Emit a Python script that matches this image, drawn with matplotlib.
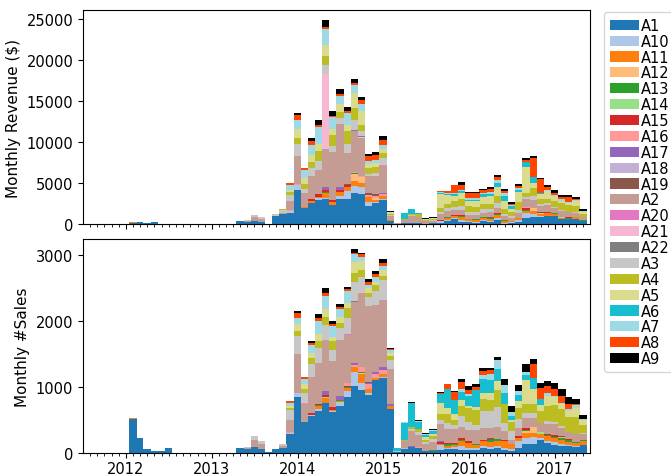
import numpy as np
import pandas as pd
import matplotlib
matplotlib.use('Agg')
import matplotlib.pyplot as plt
import matplotlib.dates as mdates

# monthly bars, 2012-01 .. 2017-04, plotted at month end
months = pd.period_range('2012-01', '2017-04', freq='M').to_timestamp(how='end').normalize()

names = ['A1', 'A10', 'A11', 'A12', 'A13', 'A14', 'A15', 'A16', 'A17', 'A18', 'A19',
         'A2', 'A20', 'A21', 'A22', 'A3', 'A4', 'A5', 'A6', 'A7', 'A8', 'A9']

# ---- monthly revenue ($), one row per year ----
rev_A1 = [120, 245, 80, 245, 30, 40, 0, 0, 0, 0, 0, 0,
          20, 20, 20, 370, 290, 370, 285, 10, 1020, 1180, 1390, 4170,
          1920, 2610, 2940, 3020, 2330, 3060, 3060, 3840, 3680, 2200, 2530, 2940,
          380, 40, 80, 100, 120, 60, 80, 160, 380, 600, 300, 200,
          170, 350, 240, 430, 60, 90, 240, 690, 820, 820, 990, 1015,
          585, 550, 600, 340]
rev_A10 = [0, 0, 0, 0, 0, 0, 0, 0, 0, 0, 0, 0,
           0, 0, 0, 0, 0, 0, 0, 0, 0, 0, 200, 570,
           0, 0, 250, 200, 0, 300, 1000, 820, 780, 530, 200, 160,
           0, 20, 0, 0, 0, 0, 0, 200, 160, 120, 150, 160,
           120, 150, 120, 300, 100, 100, 200, 610, 450, 100, 0, 0,
           60, 0, 0, 0]
rev_A11 = [120, 0, 0, 0, 0, 0, 0, 0, 0, 0, 0, 0,
           0, 0, 0, 0, 0, 0, 0, 0, 0, 0, 0, 0,
           120, 160, 160, 530, 370, 500, 400, 530, 530, 610, 200, 330,
           60, 0, 0, 0, 0, 0, 0, 0, 250, 300, 400, 200,
           200, 250, 300, 400, 200, 120, 250, 245, 300, 290, 300, 200,
           120, 120, 200, 80]
rev_A12 = [0, 0, 0, 0, 0, 0, 0, 0, 0, 0, 0, 0,
           0, 0, 0, 0, 0, 0, 0, 0, 0, 0, 0, 0,
           0, 0, 0, 0, 0, 0, 0, 900, 690, 0, 200, 0,
           0, 0, 0, 0, 0, 0, 0, 0, 0, 0, 0, 0,
           0, 0, 0, 0, 0, 0, 0, 0, 400, 0, 0, 0,
           0, 0, 0, 0]
rev_A13 = [0, 0, 0, 0, 0, 0, 0, 0, 0, 0, 0, 0,
           0, 0, 0, 0, 0, 0, 0, 0, 0, 0, 0, 0,
           0, 0, 0, 120, 0, 100, 80, 120, 0, 0, 0, 0,
           0, 0, 0, 0, 0, 0, 0, 0, 120, 0, 80, 0,
           80, 80, 100, 120, 80, 0, 80, 160, 0, 0, 80, 80,
           0, 80, 100, 80]
rev_A14 = [0, 0, 0, 0, 0, 0, 0, 0, 0, 0, 0, 0,
           0, 0, 0, 0, 0, 0, 0, 0, 0, 0, 0, 0,
           0, 0, 0, 0, 0, 0, 0, 0, 0, 0, 0, 0,
           0, 0, 0, 0, 0, 0, 0, 0, 0, 0, 0, 0,
           0, 0, 0, 0, 0, 0, 0, 0, 0, 80, 0, 0,
           80, 0, 0, 0]
rev_A15 = [0, 0, 0, 0, 0, 0, 0, 0, 0, 0, 0, 0,
           0, 0, 0, 0, 0, 0, 0, 0, 0, 0, 0, 0,
           0, 250, 330, 290, 250, 250, 160, 0, 0, 0, 0, 0,
           0, 0, 0, 0, 0, 0, 0, 100, 0, 100, 120, 80,
           0, 0, 0, 100, 80, 60, 0, 200, 0, 120, 150, 0,
           60, 80, 0, 0]
rev_A16 = [0, 0, 0, 0, 0, 0, 0, 0, 0, 0, 0, 0,
           0, 0, 0, 0, 0, 0, 0, 0, 0, 0, 100, 100,
           0, 0, 0, 0, 0, 0, 120, 120, 120, 200, 290, 200,
           0, 0, 0, 0, 60, 0, 0, 0, 0, 0, 0, 0,
           0, 0, 0, 0, 0, 0, 0, 200, 0, 0, 0, 0,
           0, 0, 0, 0]
rev_A17 = [0, 0, 0, 0, 0, 0, 0, 0, 0, 0, 0, 0,
           0, 0, 0, 0, 0, 0, 0, 0, 0, 0, 0, 0,
           0, 0, 0, 330, 0, 300, 0, 0, 0, 0, 0, 120,
           60, 0, 40, 40, 0, 0, 0, 80, 0, 0, 0, 0,
           0, 0, 0, 0, 0, 0, 0, 0, 0, 0, 0, 0,
           0, 0, 0, 0]
rev_A18 = [0, 0, 0, 0, 0, 0, 0, 0, 0, 0, 0, 0,
           0, 0, 0, 0, 0, 0, 0, 0, 0, 0, 0, 0,
           0, 0, 0, 0, 0, 0, 0, 0, 0, 0, 0, 0,
           0, 0, 0, 0, 0, 0, 0, 0, 0, 0, 0, 0,
           0, 0, 0, 0, 0, 0, 0, 0, 0, 0, 0, 0,
           0, 0, 0, 0]
rev_A19 = [0, 0, 0, 0, 0, 0, 0, 0, 0, 0, 0, 0,
           0, 0, 0, 0, 0, 0, 0, 0, 0, 0, 0, 0,
           0, 0, 0, 0, 0, 0, 120, 0, 0, 290, 200, 0,
           0, 0, 0, 0, 0, 0, 0, 0, 0, 0, 0, 0,
           0, 0, 80, 0, 0, 0, 0, 0, 0, 0, 0, 0,
           0, 0, 0, 0]
rev_A2 = [0, 0, 0, 0, 0, 0, 0, 0, 0, 0, 0, 0,
          0, 0, 0, 0, 40, 450, 280, 0, 0, 120, 1100, 3510,
          1710, 2820, 2940, 4700, 5800, 7640, 3730, 4980, 4700, 2060, 2250, 3430,
          450, 40, 400, 820, 650, 250, 320, 730, 700, 650, 700, 450,
          500, 550, 600, 650, 400, 350, 600, 940, 1000, 800, 820, 700,
          650, 600, 500, 330]
rev_A20 = [0, 0, 0, 0, 0, 0, 0, 0, 0, 0, 0, 0,
           0, 0, 0, 0, 0, 0, 0, 0, 0, 0, 0, 0,
           0, 0, 0, 0, 0, 0, 0, 0, 0, 0, 0, 0,
           0, 0, 0, 0, 0, 0, 0, 0, 0, 0, 0, 0,
           0, 0, 0, 0, 0, 0, 0, 0, 0, 0, 0, 0,
           0, 0, 0, 0]
rev_A21 = [0, 0, 0, 0, 0, 0, 0, 0, 0, 0, 0, 0,
           0, 0, 0, 0, 0, 0, 0, 0, 0, 0, 0, 0,
           0, 0, 0, 9070, 0, 0, 0, 0, 120, 0, 120, 120,
           0, 0, 0, 0, 0, 0, 0, 0, 0, 0, 0, 0,
           0, 0, 0, 0, 0, 0, 0, 0, 0, 0, 0, 0,
           0, 0, 0, 0]
rev_A22 = [0, 0, 0, 0, 0, 0, 0, 0, 0, 0, 0, 0,
           0, 0, 0, 0, 0, 0, 0, 0, 0, 0, 0, 0,
           0, 0, 0, 0, 0, 0, 0, 200, 120, 0, 0, 0,
           0, 0, 0, 0, 0, 0, 0, 0, 0, 0, 0, 0,
           0, 0, 0, 0, 0, 0, 0, 0, 0, 0, 0, 0,
           0, 0, 0, 0]
rev_A3 = [0, 0, 0, 0, 0, 0, 0, 0, 0, 0, 0, 0,
          0, 0, 0, 0, 180, 285, 280, 0, 160, 450, 700, 1430,
          490, 940, 1100, 1100, 815, 775, 1140, 1225, 570, 245, 290, 735,
          120, 0, 0, 80, 80, 60, 80, 200, 300, 330, 450, 400,
          400, 450, 450, 600, 300, 250, 400, 290, 500, 200, 200, 100,
          100, 80, 100, 0]
rev_A4 = [0, 0, 0, 0, 0, 0, 0, 0, 0, 0, 0, 0,
          0, 0, 0, 0, 0, 0, 0, 0, 0, 40, 400, 735,
          650, 820, 1140, 1140, 1350, 775, 1510, 1430, 820, 690, 650, 610,
          160, 0, 50, 200, 250, 120, 150, 490, 500, 700, 800, 650,
          650, 600, 600, 800, 600, 450, 900, 410, 900, 600, 490, 735,
          900, 800, 700, 410]
rev_A5 = [0, 0, 0, 0, 0, 0, 0, 0, 0, 0, 0, 0,
          0, 0, 0, 0, 0, 0, 0, 0, 0, 0, 250, 1100,
          780, 820, 940, 1350, 695, 900, 820, 1840, 1670, 530, 490, 530,
          200, 0, 0, 0, 0, 80, 80, 1760, 1100, 650, 800, 650,
          700, 900, 900, 1100, 1000, 450, 1200, 3270, 600, 600, 940, 600,
          300, 300, 600, 245]
rev_A6 = [0, 0, 0, 0, 0, 0, 0, 0, 0, 0, 0, 0,
          0, 0, 0, 0, 0, 0, 0, 0, 0, 0, 0, 0,
          0, 0, 0, 0, 0, 0, 0, 0, 0, 0, 0, 0,
          0, 60, 820, 570, 160, 30, 0, 120, 160, 250, 250, 160,
          120, 300, 300, 450, 650, 300, 250, 530, 820, 200, 0, 0,
          0, 0, 0, 0]
rev_A7 = [0, 0, 0, 0, 0, 0, 0, 0, 0, 0, 0, 0,
          0, 0, 0, 0, 0, 0, 0, 0, 0, 0, 570, 1140,
          940, 1220, 2000, 1920, 1470, 1020, 1430, 980, 900, 290, 410, 490,
          80, 0, 0, 0, 40, 60, 80, 80, 80, 100, 80, 200,
          250, 100, 200, 450, 300, 200, 300, 0, 0, 0, 200, 120,
          160, 120, 120, 160]
rev_A8 = [0, 0, 0, 0, 0, 0, 0, 0, 0, 0, 0, 0,
          0, 0, 0, 0, 0, 0, 0, 0, 0, 80, 250, 610,
          200, 530, 330, 330, 160, 200, 200, 245, 410, 690, 610, 610,
          0, 0, 0, 0, 0, 0, 0, 120, 290, 900, 650, 650,
          650, 400, 400, 350, 200, 120, 200, 290, 2250, 1630, 320, 290,
          245, 530, 160, 0]
rev_A9 = [0, 0, 0, 0, 0, 0, 0, 0, 0, 0, 0, 0,
          0, 0, 0, 0, 0, 0, 0, 0, 0, 0, 0, 200,
          0, 370, 610, 780, 610, 600, 490, 410, 450, 245, 330, 490,
          120, 0, 0, 30, 30, 30, 30, 0, 0, 0, 320, 120,
          80, 200, 200, 250, 320, 250, 320, 245, 290, 200, 290, 330,
          290, 290, 250, 200]

# ---- monthly number of sales ----
sal_A1 = [515, 234, 66, 36, 36, 81, 0, 0, 0, 0, 0, 0,
          6, 6, 6, 81, 66, 97, 66, 10, 55, 80, 295, 850,
          468, 560, 636, 763, 621, 712, 845, 1018, 952, 880, 1100, 1135,
          672, 20, 61, 92, 76, 25, 30, 51, 61, 61, 41, 51,
          51, 76, 61, 76, 51, 37, 76, 142, 142, 194, 153, 127,
          112, 102, 92, 128]
sal_A10 = [0, 0, 0, 0, 0, 0, 0, 0, 0, 0, 0, 0,
           0, 0, 0, 0, 0, 0, 0, 0, 0, 0, 15, 66,
           0, 10, 25, 0, 10, 61, 100, 203, 107, 36, 0, 15,
           0, 5, 5, 0, 0, 0, 0, 76, 20, 30, 61, 25,
           25, 25, 25, 25, 25, 30, 102, 87, 102, 35, 31, 40,
           30, 20, 20, 0]
sal_A11 = [10, 0, 0, 0, 0, 0, 0, 0, 0, 0, 0, 0,
           0, 0, 0, 0, 0, 0, 0, 0, 0, 0, 0, 0,
           0, 10, 51, 76, 20, 20, 40, 76, 137, 51, 30, 51,
           36, 0, 0, 0, 0, 0, 0, 10, 30, 30, 76, 76,
           51, 76, 87, 87, 102, 76, 51, 76, 61, 66, 66, 61,
           61, 51, 41, 51]
sal_A12 = [0, 0, 0, 0, 0, 0, 0, 0, 0, 0, 0, 0,
           0, 0, 0, 0, 0, 0, 0, 0, 0, 0, 0, 0,
           0, 0, 0, 0, 0, 0, 0, 0, 15, 0, 0, 0,
           10, 0, 0, 0, 0, 0, 0, 0, 0, 0, 0, 0,
           0, 0, 0, 0, 0, 0, 0, 25, 92, 0, 0, 0,
           0, 0, 0, 0]
sal_A13 = [0, 0, 0, 0, 0, 0, 0, 0, 0, 0, 0, 0,
           0, 0, 0, 0, 0, 0, 0, 0, 0, 0, 0, 0,
           0, 0, 10, 0, 0, 10, 10, 0, 15, 0, 0, 0,
           0, 0, 0, 0, 0, 0, 10, 0, 20, 15, 25, 0,
           15, 0, 25, 25, 0, 0, 0, 25, 0, 0, 20, 20,
           20, 20, 15, 15]
sal_A14 = [0, 0, 0, 0, 0, 0, 0, 0, 0, 0, 0, 0,
           0, 0, 0, 0, 0, 0, 0, 0, 0, 0, 0, 0,
           0, 0, 0, 10, 0, 0, 0, 0, 0, 0, 0, 0,
           0, 0, 0, 0, 0, 0, 0, 0, 10, 0, 0, 0,
           0, 0, 0, 0, 0, 0, 0, 0, 0, 20, 0, 0,
           20, 0, 0, 0]
sal_A15 = [0, 0, 0, 0, 0, 0, 0, 0, 0, 0, 0, 0,
           0, 0, 0, 0, 0, 0, 0, 0, 0, 0, 0, 0,
           0, 30, 25, 25, 41, 0, 25, 0, 0, 0, 0, 0,
           0, 0, 0, 0, 0, 0, 0, 36, 10, 20, 25, 25,
           0, 25, 0, 0, 25, 0, 25, 25, 0, 0, 20, 20,
           12, 15, 0, 0]
sal_A16 = [0, 0, 0, 0, 0, 0, 0, 0, 0, 0, 0, 0,
           0, 0, 0, 0, 0, 0, 0, 0, 0, 0, 10, 0,
           0, 0, 0, 0, 0, 0, 40, 40, 76, 76, 66, 61,
           0, 0, 0, 0, 20, 10, 0, 0, 0, 0, 0, 0,
           0, 0, 0, 0, 0, 0, 0, 0, 0, 0, 0, 0,
           0, 0, 0, 0]
sal_A17 = [0, 0, 0, 0, 0, 0, 0, 0, 0, 0, 0, 0,
           0, 0, 0, 0, 0, 0, 0, 0, 0, 0, 0, 0,
           0, 0, 0, 61, 0, 56, 0, 30, 0, 10, 36, 41,
           25, 0, 0, 20, 0, 0, 0, 15, 0, 0, 0, 0,
           0, 0, 0, 0, 0, 0, 0, 0, 0, 0, 0, 0,
           0, 0, 0, 0]
sal_A18 = [0, 0, 0, 0, 0, 0, 0, 0, 0, 0, 0, 0,
           0, 0, 0, 0, 0, 0, 0, 0, 0, 0, 0, 0,
           0, 0, 0, 0, 0, 0, 0, 0, 0, 0, 0, 0,
           0, 0, 8, 0, 0, 0, 0, 0, 0, 0, 0, 0,
           0, 0, 0, 0, 0, 0, 0, 0, 0, 0, 0, 0,
           0, 0, 0, 0]
sal_A19 = [0, 0, 0, 0, 0, 0, 0, 0, 0, 0, 0, 0,
           0, 0, 0, 0, 0, 0, 0, 0, 0, 0, 0, 0,
           0, 0, 0, 0, 0, 0, 0, 0, 0, 15, 0, 0,
           0, 0, 0, 0, 0, 0, 0, 0, 0, 0, 0, 0,
           0, 0, 25, 0, 0, 0, 0, 0, 0, 0, 0, 0,
           0, 0, 0, 0]
sal_A2 = [0, 0, 0, 0, 0, 0, 0, 0, 0, 0, 0, 0,
          0, 0, 0, 0, 15, 107, 76, 0, 0, 20, 173, 585,
          290, 545, 611, 773, 697, 850, 728, 916, 1115, 1160, 1003, 1018,
          534, 6, 112, 224, 183, 102, 127, 254, 214, 204, 168, 178,
          204, 178, 153, 178, 127, 61, 127, 153, 137, 143, 153, 168,
          127, 117, 127, 92]
sal_A20 = [0, 0, 0, 0, 0, 0, 0, 0, 0, 0, 0, 0,
           0, 0, 0, 0, 0, 0, 0, 0, 0, 0, 0, 0,
           0, 0, 0, 0, 0, 0, 20, 0, 0, 0, 0, 0,
           0, 0, 0, 0, 0, 0, 0, 0, 0, 0, 0, 0,
           0, 0, 0, 0, 0, 0, 0, 0, 0, 0, 0, 0,
           0, 0, 0, 0]
sal_A21 = [0, 0, 0, 0, 0, 0, 0, 0, 0, 0, 0, 0,
           0, 0, 0, 0, 0, 0, 0, 0, 0, 0, 0, 0,
           15, 0, 0, 0, 0, 0, 0, 0, 15, 0, 0, 0,
           0, 0, 0, 0, 0, 0, 0, 0, 0, 0, 0, 0,
           0, 0, 0, 0, 0, 0, 0, 0, 0, 0, 0, 0,
           0, 0, 0, 0]
sal_A22 = [0, 0, 0, 0, 0, 0, 0, 0, 0, 0, 0, 0,
           0, 0, 0, 0, 0, 0, 0, 0, 0, 0, 0, 0,
           0, 0, 0, 0, 0, 0, 0, 25, 0, 0, 0, 0,
           0, 0, 0, 0, 0, 0, 0, 0, 0, 0, 0, 0,
           0, 0, 0, 0, 0, 0, 0, 0, 0, 0, 0, 0,
           0, 0, 0, 0]
sal_A3 = [0, 0, 0, 0, 0, 0, 0, 0, 0, 0, 0, 0,
          0, 0, 0, 0, 15, 50, 46, 0, 10, 30, 153, 265,
          142, 198, 239, 224, 178, 178, 229, 280, 239, 127, 219, 305,
          137, 0, 0, 20, 41, 36, 51, 61, 92, 66, 163, 117,
          76, 255, 255, 305, 127, 127, 127, 76, 76, 0, 40, 40,
          30, 0, 0, 20]
sal_A4 = [0, 0, 0, 0, 0, 0, 0, 0, 0, 0, 0, 0,
          0, 0, 0, 0, 0, 0, 0, 0, 0, 0, 36, 76,
          61, 81, 92, 122, 122, 87, 153, 137, 97, 61, 87, 61,
          51, 0, 10, 40, 41, 31, 41, 92, 127, 76, 153, 204,
          229, 178, 178, 255, 280, 137, 178, 127, 127, 178, 229, 247,
          250, 214, 244, 112]
sal_A5 = [0, 0, 0, 0, 0, 0, 0, 0, 0, 0, 0, 0,
          0, 0, 0, 0, 0, 0, 0, 0, 0, 0, 30, 107,
          71, 76, 112, 132, 71, 81, 76, 173, 132, 76, 51, 81,
          51, 0, 0, 0, 0, 36, 36, 163, 92, 81, 87, 35,
          51, 102, 102, 137, 0, 30, 102, 372, 229, 92, 153, 122,
          81, 102, 137, 81]
sal_A6 = [0, 0, 0, 0, 0, 0, 0, 0, 0, 0, 0, 0,
          0, 0, 0, 0, 0, 0, 0, 0, 0, 0, 0, 0,
          0, 0, 0, 0, 0, 0, 0, 0, 0, 0, 0, 0,
          0, 40, 265, 366, 112, 31, 36, 142, 300, 224, 127, 153,
          249, 204, 194, 183, 178, 61, 87, 71, 163, 87, 0, 0,
          0, 0, 0, 0]
sal_A7 = [0, 0, 0, 0, 0, 0, 0, 0, 0, 0, 0, 0,
          0, 0, 0, 0, 0, 0, 0, 0, 0, 0, 51, 102,
          81, 127, 204, 188, 163, 122, 193, 122, 71, 51, 66, 61,
          41, 0, 5, 0, 10, 10, 10, 0, 0, 0, 41, 31,
          0, 61, 87, 137, 117, 61, 66, 51, 0, 0, 51, 20,
          20, 25, 51, 20]
sal_A8 = [0, 0, 0, 0, 0, 0, 0, 0, 0, 0, 0, 0,
          0, 0, 0, 0, 0, 0, 0, 0, 0, 12, 31, 76,
          25, 25, 41, 51, 25, 31, 20, 15, 41, 51, 51, 51,
          15, 0, 0, 0, 0, 0, 0, 5, 66, 117, 112, 61,
          41, 56, 61, 0, 0, 0, 0, 0, 219, 168, 102, 102,
          102, 76, 20, 0]
sal_A9 = [0, 0, 0, 0, 0, 0, 0, 0, 0, 0, 0, 0,
          0, 0, 0, 0, 0, 0, 0, 0, 0, 0, 0, 21,
          0, 41, 61, 66, 46, 51, 41, 51, 20, 36, 41, 61,
          25, 0, 0, 15, 15, 15, 15, 15, 0, 10, 41, 51,
          51, 51, 31, 51, 87, 92, 87, 117, 76, 76, 76, 92,
          102, 102, 66, 51]

revenue = [rev_A1, rev_A10, rev_A11, rev_A12, rev_A13, rev_A14, rev_A15, rev_A16,
           rev_A17, rev_A18, rev_A19, rev_A2, rev_A20, rev_A21, rev_A22, rev_A3,
           rev_A4, rev_A5, rev_A6, rev_A7, rev_A8, rev_A9]
sales = [sal_A1, sal_A10, sal_A11, sal_A12, sal_A13, sal_A14, sal_A15, sal_A16,
         sal_A17, sal_A18, sal_A19, sal_A2, sal_A20, sal_A21, sal_A22, sal_A3,
         sal_A4, sal_A5, sal_A6, sal_A7, sal_A8, sal_A9]

colors = list(plt.get_cmap('tab20').colors) + ['orangered', 'black']

fig = plt.figure(figsize=(6.71, 4.77), dpi=100)
ax1 = fig.add_axes([83 / 671, 1 - 225 / 477, 507 / 671, 214 / 477])
ax2 = fig.add_axes([83 / 671, 1 - 454 / 477, 507 / 671, 214 / 477], sharex=ax1)

# stacked bars, one layer per category
for ax, data in [(ax1, revenue), (ax2, sales)]:
    bottom = np.zeros(len(months))
    for name, vals, c in zip(names, data, colors):
        vals = np.array(vals, dtype=float)
        ax.bar(months, vals, width=31, bottom=bottom, color=c, label=name, linewidth=0)
        bottom += vals

ax1.set_ylabel('Monthly Revenue ($)', fontsize=11)
ax2.set_ylabel('Monthly #Sales', fontsize=11)
ax1.set_yticks([0, 5000, 10000, 15000, 20000, 25000])
ax2.set_yticks([0, 1000, 2000, 3000])

ax2.xaxis.set_major_locator(mdates.YearLocator())
ax2.xaxis.set_major_formatter(mdates.DateFormatter('%Y'))
ax2.xaxis.set_minor_locator(mdates.MonthLocator())
ax1.set_xlim(pd.Timestamp('2011-07-02'), pd.Timestamp('2017-05-30'))
plt.setp(ax1.get_xticklabels(), visible=False)
for ax in (ax1, ax2):
    ax.tick_params(labelsize=10.5)
ax2.tick_params(axis='x', pad=2.5)

handles, labels = ax1.get_legend_handles_labels()
fig.legend(handles, labels, loc='upper left', bbox_to_anchor=(604 / 671, 1 - 13 / 477),
           borderaxespad=0, labelspacing=0.06, handletextpad=0.1, fontsize=10.5)

fig.savefig('out.png', dpi=100)
